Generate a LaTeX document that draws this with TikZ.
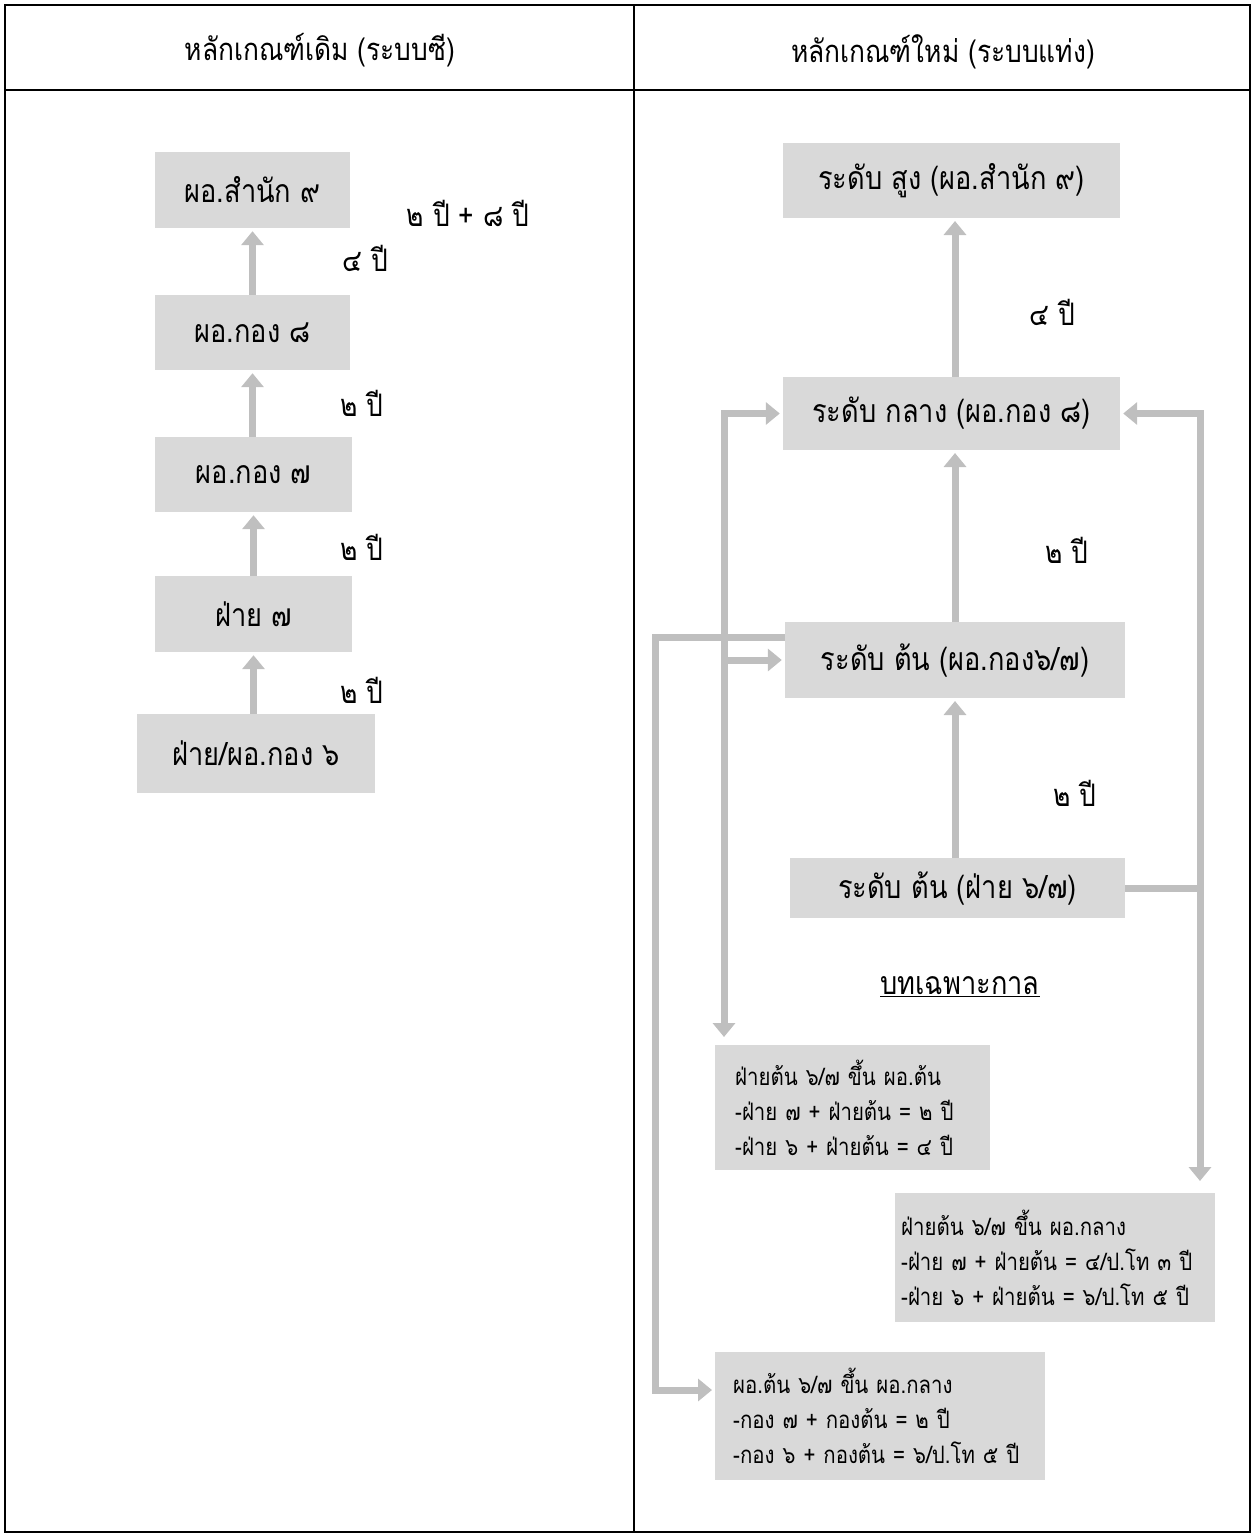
\documentclass[tikz,border=0pt]{standalone}
\usepackage{fontspec}
\newfontfamily\thaifont[Script=Thai,FakeStretch=0.85]{Loma}
\usetikzlibrary{arrows.meta,calc}

\tikzset{
  rule/.style={draw=black, line width=1.6pt},
  grade/.style={fill=gray!30, draw=none, inner sep=0pt,
    font=\thaifont\fontsize{32}{38}\selectfont},
  note/.style={fill=gray!30, draw=none, anchor=north west, align=left,
    inner ysep=0pt, font=\thaifont\fontsize{24}{35}\selectfont},
  head/.style={inner sep=0pt, font=\thaifont\fontsize{31}{36}\selectfont},
  yrs/.style={font=\thaifont\fontsize{31}{36}\selectfont, inner sep=0pt},
  conn/.style={draw=gray!50, line width=7pt},
  tip/.tip={Triangle[length=14pt,width=22pt]},
  up/.style={conn, -tip, shorten >=3pt},
}

\begin{document}
\begin{tikzpicture}[x=1pt,y=-1pt]
\useasboundingbox (0,0) rectangle (1253,1535);

% table frame and header row
\draw[rule] (5,5) rectangle (1250,1532);
\draw[rule] (5,90) -- (1250,90);
\draw[rule] (634,5) -- (634,1532);
\node[head] (hOld) at (320,50) {หลักเกณฑ์เดิม (ระบบซี)};
\node[head] (hNew) at (943,52) {หลักเกณฑ์ใหม่ (ระบบแท่ง)};

% ---- old scheme (C levels) ----
\node[grade, minimum width=195pt, minimum height=76pt] (o9) at (252.5,190) {ผอ.สำนัก ๙};
\node[grade, minimum width=195pt, minimum height=75pt] (o8) at (252.5,332.5) {ผอ.กอง ๘};
\node[grade, minimum width=197pt, minimum height=75pt] (o7) at (253.5,474.5) {ผอ.กอง ๗};
\node[grade, minimum width=197pt, minimum height=76pt] (f7) at (253.5,614) {ฝ่าย ๗};
\node[grade, minimum width=238pt, minimum height=79pt] (f6) at (256,753.5) {ฝ่าย/ผอ.กอง ๖};

\draw[up] (o8.north -| o9.south) -- (o9.south);
\draw[up] (o7.north -| o8.south) -- (o8.south);
\draw[up] (f7.north -| o7.south) -- (o7.south);
\draw[up] (f6.north -| f7.south) -- (f7.south);

\node[yrs] (yTop) at (468,213) {๒ ปี + ๘ ปี};
\node[yrs] (y98) at (365,258) {๔ ปี};
\node[yrs] (y87) at (362,403) {๒ ปี};
\node[yrs] (y77) at (362,547) {๒ ปี};
\node[yrs] (y67) at (362,690) {๒ ปี};

% ---- new scheme (broadband levels) ----
\node[grade, minimum width=337pt, minimum height=75pt] (hi) at (951.5,180.5) {ระดับ สูง (ผอ.สำนัก ๙)};
\node[grade, minimum width=337pt, minimum height=73pt] (mid) at (951.5,413.5) {ระดับ กลาง (ผอ.กอง ๘)};
\node[grade, minimum width=340pt, minimum height=76pt] (lowD) at (955,660) {ระดับ ต้น (ผอ.กอง๖/๗)};
\node[grade, minimum width=335pt, minimum height=60pt] (lowS) at (957.5,888) {ระดับ ต้น (ฝ่าย ๖/๗)};

\draw[up] (955,376.5) -- (955,218);
\draw[up] (955,622) -- (955,450);
\draw[up] (955,858) -- (955,698);

\node[yrs] (yHi) at (1052,312) {๔ ปี};
\node[yrs] (yMid) at (1067,550) {๒ ปี};
\node[yrs] (yLow) at (1075,793) {๒ ปี};

% transitional provisions
\node[font=\thaifont\fontsize{32}{38}\selectfont, inner sep=0pt] (trans) at (960,987) {\underline{บทเฉพาะกาล}};

\node[note, minimum height=125pt, inner xsep=20pt, text width=235pt] (nA) at (715,1045)
  {ฝ่ายต้น ๖/๗ ขึ้น ผอ.ต้น\\-ฝ่าย ๗ + ฝ่ายต้น = ๒ ปี\\-ฝ่าย ๖ + ฝ่ายต้น = ๔ ปี};
\node[note, minimum height=129pt, inner xsep=6pt, text width=308pt] (nB) at (895,1193)
  {ฝ่ายต้น ๖/๗ ขึ้น ผอ.กลาง\\-ฝ่าย ๗ + ฝ่ายต้น = ๔/ป.โท ๓ ปี\\-ฝ่าย ๖ + ฝ่ายต้น = ๖/ป.โท ๕ ปี};
\node[note, minimum height=128pt, inner xsep=18pt, text width=294pt] (nC) at (715,1352)
  {ผอ.ต้น ๖/๗ ขึ้น ผอ.กลาง\\-กอง ๗ + กองต้น = ๒ ปี\\-กอง ๖ + กองต้น = ๖/ป.โท ๕ ปี};

% bus lines
\coordinate (lx) at (724,0);
\coordinate (rx) at (1200,0);
\coordinate (ox) at (655,0);

\draw[conn, tip-tip, shorten <=3pt, shorten >=8pt] (mid.west) -| (nA.north west -| lx);
\draw[conn, -tip, shorten >=3pt] (lowD.west -| lx) -- (lowD.west);
\draw[conn, tip-tip, shorten <=3pt, shorten >=12pt] (mid.east) -| (nB.north -| rx);
\draw[conn] (lowS.east) -- (lowS.east -| rx);
\coordinate (dTop) at ($(lowD.north west)+(0,16)$);
\draw[conn, -tip, shorten >=3pt] (dTop) -| ($(nC.north west -| ox)+(0,38)$) -- ($(nC.north west)+(0,38)$);
\end{tikzpicture}
\end{document}
